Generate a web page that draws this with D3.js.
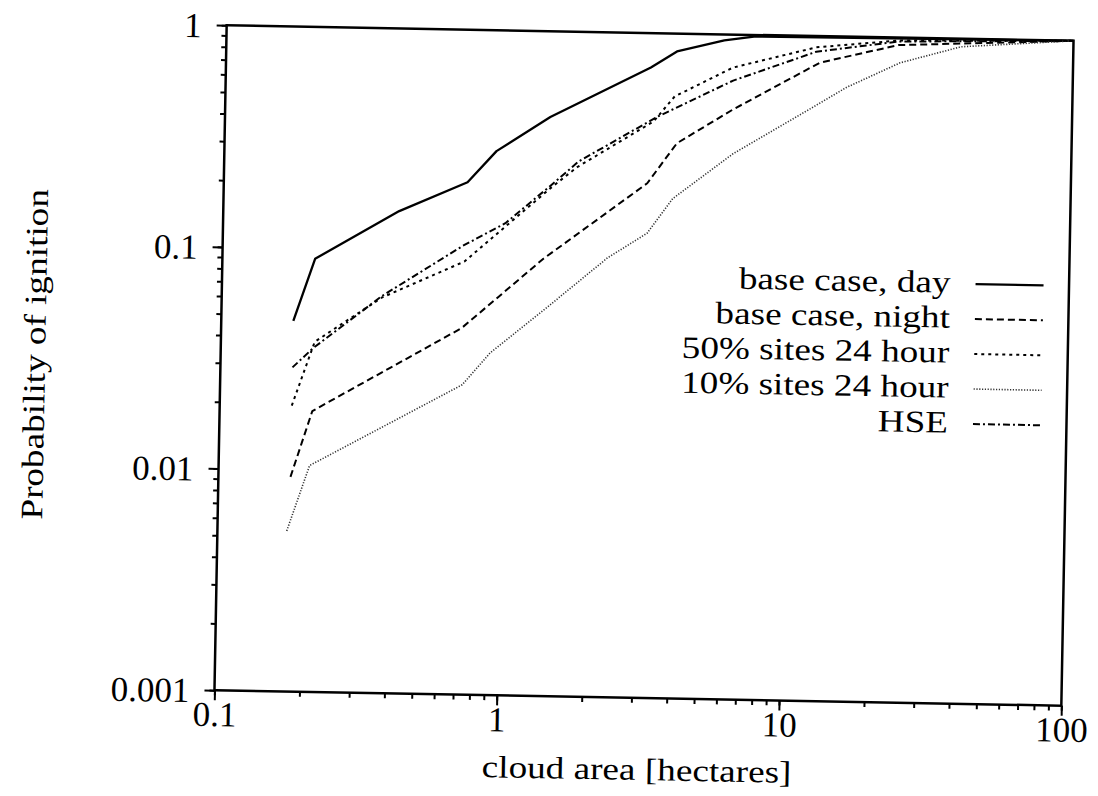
<!DOCTYPE html>
<html lang="en">
<head>
<meta charset="UTF-8">
<title>Probability of ignition vs cloud area</title>
<script src="https://cdnjs.cloudflare.com/ajax/libs/d3/7.8.5/d3.min.js"></script>
<style>
  body { margin: 0; background: #fff; }
  svg { display: block; }
</style>
</head>
<body>
<svg id="chart" width="1098" height="796"></svg>
<script>
// values: cloud area [hectares] -> probability of ignition
const seriesNames = ["base case, day", "base case, night", "50% sites 24 hour", "10% sites 24 hour", "HSE"];

const dayArea  = [0.18, 0.213, 0.42, 0.73, 0.92, 1.42, 3.2, 3.95, 5.8, 7.5, 100];
const dayProb  = [0.047, 0.09, 0.15, 0.205, 0.285, 0.41, 0.70, 0.83, 0.94, 0.985, 1.0];

const nightArea = [0.18, 0.213, 0.71, 1.37, 3.16, 4.0, 6.3, 12.7, 24, 100];
const nightProb = [0.0093, 0.0185, 0.045, 0.094, 0.21, 0.32, 0.46, 0.76, 0.925, 1.0];

const fiftyArea = [0.18, 0.215, 0.37, 0.72, 1.43, 1.78, 3.3, 3.9, 6.25, 12.3, 24, 100];
const fiftyProb = [0.0195, 0.038, 0.061, 0.09, 0.195, 0.245, 0.40, 0.52, 0.71, 0.89, 0.97, 1.0];

const tenArea = [0.176, 0.21, 0.72, 0.9, 1.45, 2.31, 3.18, 3.9, 6.33, 11.5, 15.8, 24.4, 40, 100];
const tenProb = [0.0053, 0.0105, 0.025, 0.035, 0.058, 0.096, 0.125, 0.18, 0.29, 0.46, 0.59, 0.77, 0.92, 1.0];

const hseArea = [0.18, 0.212, 0.37, 0.71, 1.0, 1.43, 1.8, 3.4, 6.27, 12.3, 24, 100];
const hseProb = [0.029, 0.0355, 0.062, 0.106, 0.135, 0.2, 0.26, 0.42, 0.62, 0.85, 0.96, 1.0];

const xTicks = [0.1, 1, 10, 100];
const xTickLabels = ["0.1", "1", "10", "100"];
const yTicks = [0.001, 0.01, 0.1, 1];
const yTickLabels = ["0.001", "0.01", "0.1", "1"];

const series = [
  { name: seriesNames[0], area: dayArea,   prob: dayProb,   dash: null,      width: 2.3, color: "#000" },
  { name: seriesNames[1], area: nightArea, prob: nightProb, dash: "7,4",     width: 2,   color: "#000" },
  { name: seriesNames[2], area: fiftyArea, prob: fiftyProb, dash: "3,4",     width: 2,   color: "#000" },
  { name: seriesNames[3], area: tenArea,   prob: tenProb,   dash: "1.2,1.6", width: 1.6, color: "#333" },
  { name: seriesNames[4], area: hseArea,   prob: hseProb,   dash: "7,3,2,3", width: 2,   color: "#000" }
];

const FONT = '"Liberation Serif", Tinos, "Times New Roman", "DejaVu Serif", serif';
const plot = { left: 220.5, right: 1067.5, top: 33, bottom: 698 };
const stretch = 1.2;   // the scanned lettering is wider than Times at the same height
const tilt = 1.05;     // the page was scanned slightly rotated
const fontSize = 31;
const tickFontSize = 35;

const svg = d3.select("#chart");
const g = svg.append("g")
  .attr("transform", `rotate(${tilt},${(plot.left + plot.right) / 2},${(plot.top + plot.bottom) / 2})`);

const x = d3.scaleLog().domain([0.1, 100]).range([plot.left, plot.right]);
const y = d3.scaleLog().domain([0.001, 1]).range([plot.bottom, plot.top]);

// minor ticks
g.append("g")
  .attr("transform", `translate(0,${plot.bottom})`)
  .call(d3.axisBottom(x).tickValues(x.ticks()).tickSize(5).tickFormat(""))
  .call(a => a.select(".domain").remove());
g.append("g")
  .attr("transform", `translate(${plot.left},0)`)
  .call(d3.axisLeft(y).tickValues(y.ticks()).tickSize(5).tickFormat(""))
  .call(a => a.select(".domain").remove());

// major ticks + labels
const xAxis = g.append("g")
  .attr("transform", `translate(0,${plot.bottom})`)
  .call(d3.axisBottom(x).tickValues(xTicks).tickSize(10).tickFormat((d, i) => xTickLabels[i]));
xAxis.select(".domain").remove();
xAxis.selectAll("text").attr("y", 36).attr("dy", null);

const yAxis = g.append("g")
  .attr("transform", `translate(${plot.left},0)`)
  .call(d3.axisLeft(y).tickValues(yTicks).tickSize(10).tickFormat((d, i) => yTickLabels[i]));
yAxis.select(".domain").remove();
yAxis.selectAll("text").attr("x", -25).attr("dy", "0.34em");

g.selectAll(".tick line").attr("stroke", "#000").attr("stroke-width", 2);
xAxis.attr("font-family", FONT).attr("font-size", tickFontSize);
yAxis.attr("font-family", FONT).attr("font-size", tickFontSize);
g.selectAll(".tick text").attr("fill", "#000");

// frame
g.append("rect")
  .attr("x", plot.left).attr("y", plot.top)
  .attr("width", plot.right - plot.left).attr("height", plot.bottom - plot.top)
  .attr("fill", "none").attr("stroke", "#000").attr("stroke-width", 2.5);

// curves
const line = d3.line().x(d => x(d[0])).y(d => y(d[1]));
g.append("g").selectAll("path")
  .data(series)
  .join("path")
  .attr("d", s => line(s.area.map((a, i) => [a, s.prob[i]])))
  .attr("fill", "none")
  .attr("stroke", s => s.color)
  .attr("stroke-width", s => s.width)
  .attr("stroke-dasharray", s => s.dash)
  .attr("stroke-linejoin", "round");

// legend
const legend = g.append("g").attr("font-family", FONT).attr("font-size", fontSize);
const rows = legend.selectAll("g")
  .data(series)
  .join("g")
  .attr("transform", (s, i) => `translate(949,${287 + i * 35})`);
rows.append("text")
  .attr("text-anchor", "end")
  .attr("transform", `scale(${stretch},1)`)
  .text(s => s.name);
rows.append("line")
  .attr("x1", 25).attr("x2", 93)
  .attr("y1", -9).attr("y2", -9)
  .attr("stroke", s => s.color)
  .attr("stroke-width", s => s.width)
  .attr("stroke-dasharray", s => s.dash);

// axis titles
g.append("text")
  .attr("font-family", FONT).attr("font-size", fontSize)
  .attr("text-anchor", "middle")
  .attr("transform", `translate(${(plot.left + plot.right) / 2},780) scale(${stretch},1)`)
  .text("cloud area [hectares]");

g.append("text")
  .attr("font-family", FONT).attr("font-size", fontSize)
  .attr("text-anchor", "middle")
  .attr("transform", `translate(45,${(plot.top + plot.bottom) / 2}) rotate(-90) scale(${stretch},1)`)
  .text("Probability of ignition");
</script>
</body>
</html>
